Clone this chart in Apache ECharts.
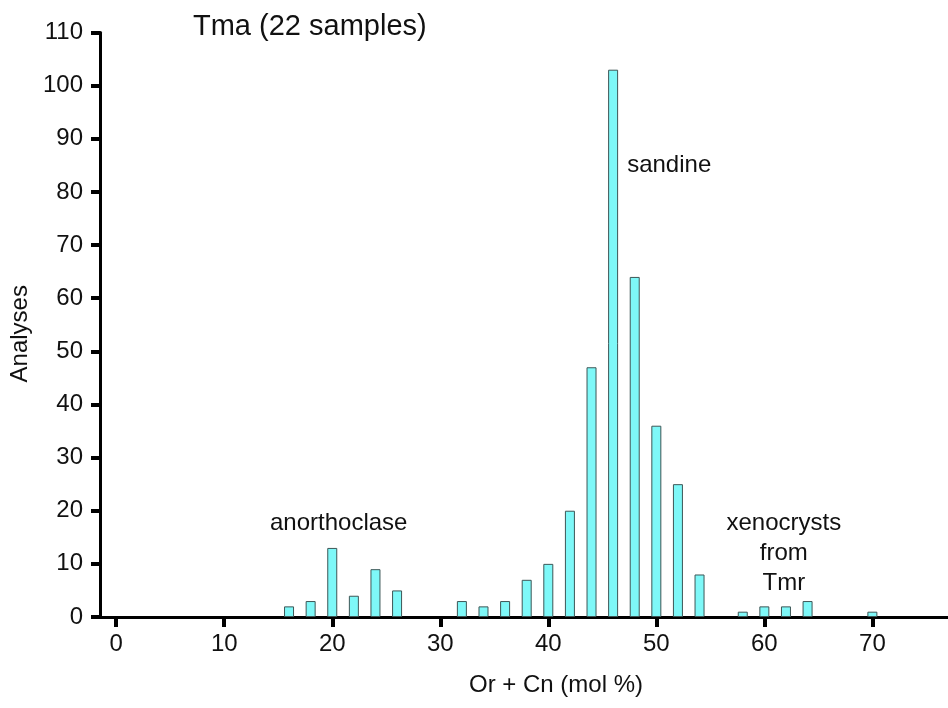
<!DOCTYPE html>
<html>
<head>
<meta charset="utf-8">
<script src="https://cdn.jsdelivr.net/npm/echarts@6/dist/echarts.min.js"></script>
<style>
    html, body {margin: 0; padding: 0; background: #fff;}
    #chart {width: 948px; height: 708px;}
</style>
</head>
<body>
<div id="chart"></div>
<script>
// Or + Cn bins (mol %) and number of analyses in each
const binCenters = [16, 18, 20, 22, 24, 26, 32, 34, 36, 38, 40, 42, 44, 46, 48, 50, 52, 54, 58, 60, 62, 64, 70]
const analyses = [2, 3, 13, 4, 9, 5, 3, 2, 3, 7, 10, 20, 47, 103, 64, 36, 25, 8, 1, 2, 2, 3, 1]
const xTicks = [0, 10, 20, 30, 40, 50, 60, 70]

// group labels, placed in data coordinates
const noteText = ['anorthoclase', 'sandine', 'xenocrysts\nfrom\nTmr']
const noteX = [20.6, 47.3, 61.8]
const noteY = [17.7, 85, 12]
const noteAlign = ['center', 'left', 'center']

const font = '"Liberation Sans", Arial, Helvetica, sans-serif'

const chart = echarts.init(document.getElementById('chart'))
chart.setOption({
    backgroundColor: '#fff',
    animation: false,
    textStyle: {fontFamily: font, color: '#111'},
    title: {
        text: 'Tma (22 samples)',
        left: 188,
        top: 7,
        textStyle: {fontFamily: font, fontSize: 29, fontWeight: 'normal', color: '#111'}
    },
    grid: {left: 100, right: 0, top: 32.5, bottom: 91, containLabel: false, outerBoundsMode: 'none'},
    xAxis: {
        type: 'value',
        min: -1.5,
        max: 77,
        name: 'Or + Cn (mol %)',
        nameLocation: 'middle',
        nameGap: 56,
        nameTextStyle: {fontFamily: font, fontSize: 24, color: '#111', padding: [0, 0, 0, 64]},
        splitLine: {show: false},
        axisLine: {lineStyle: {color: '#000', width: 3}},
        axisTick: {customValues: xTicks, length: 10, lineStyle: {color: '#000', width: 4}},
        axisLabel: {customValues: xTicks, margin: 15, fontSize: 24, color: '#111', fontFamily: font}
    },
    yAxis: {
        type: 'value',
        min: 0,
        max: 110,
        interval: 10,
        name: 'Analyses',
        nameLocation: 'middle',
        nameGap: 66,
        nameTextStyle: {fontFamily: font, fontSize: 24, color: '#111', padding: [0, 18, 0, 0]},
        splitLine: {show: false},
        axisLine: {show: true, onZero: false, lineStyle: {color: '#000', width: 3}},
        axisTick: {show: true, length: 9, lineStyle: {color: '#000', width: 4}},
        axisLabel: {margin: 17, fontSize: 24, color: '#111', fontFamily: font}
    },
    series: [
        {
            type: 'bar',
            barWidth: 10,
            data: binCenters.map((x, i) => [x, analyses[i]]),
            itemStyle: {color: '#7ef8f8', borderColor: '#3d5656', borderWidth: 1}
        },
        {
            type: 'scatter',
            symbolSize: 0,
            silent: true,
            itemStyle: {opacity: 1},
            data: noteText.map((t, i) => ({
                value: [noteX[i], noteY[i]],
                label: {
                    show: true,
                    formatter: t,
                    position: 'inside',
                    align: noteAlign[i],
                    fontSize: 24,
                    lineHeight: 30,
                    color: '#111',
                    opacity: 1,
                    fontFamily: font
                }
            }))
        }
    ]
})
</script>
</body>
</html>
